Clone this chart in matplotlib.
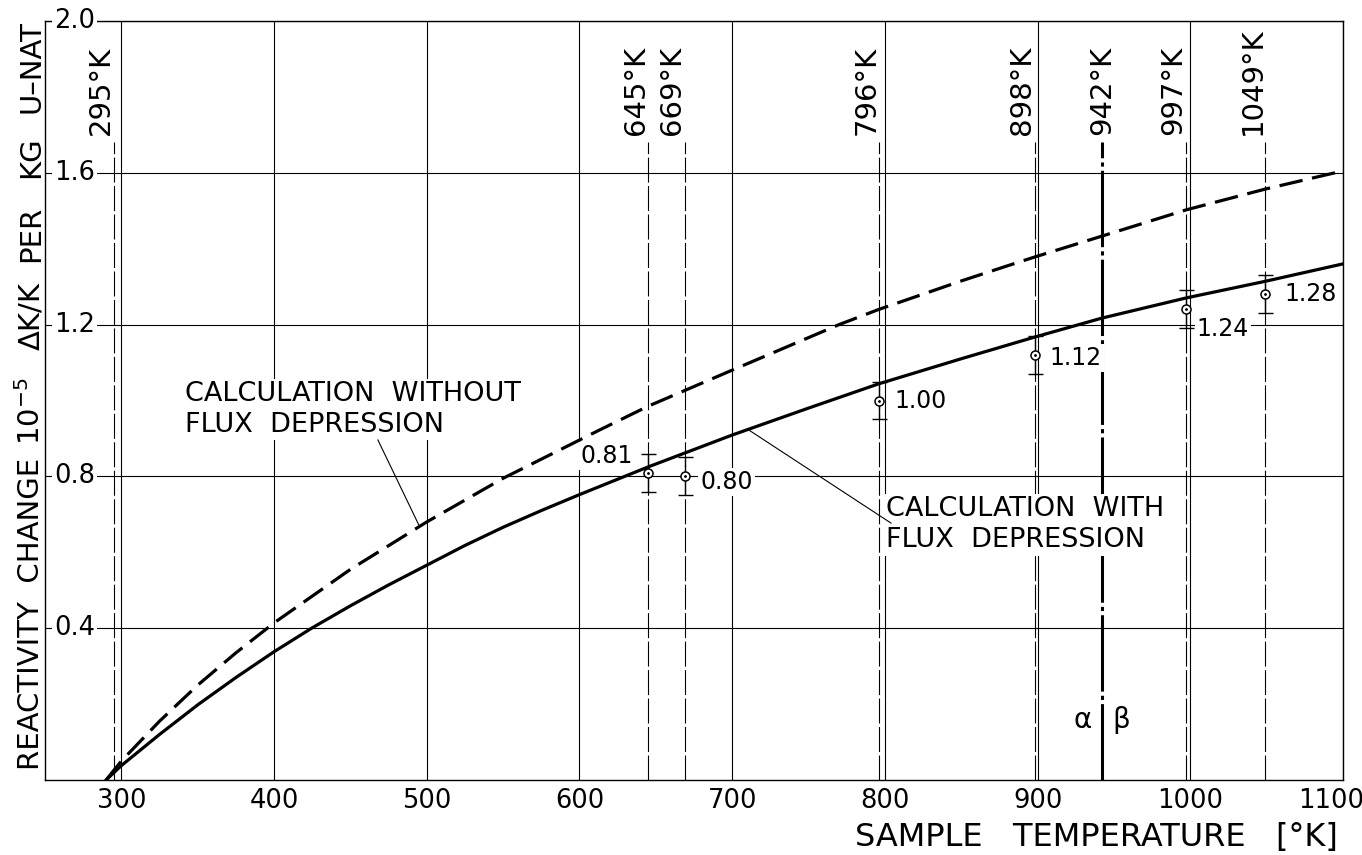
import matplotlib.pyplot as plt
from matplotlib.transforms import ScaledTranslation

plt.rcParams['font.family'] = ['DejaVu Sans']
plt.rcParams['lines.scale_dashes'] = False

# sample temperature [K] vs reactivity change [1e-5 dk/k per kg U-nat]
temp_with = [290, 300, 325, 350, 375, 400, 425, 450, 475, 500, 525, 550, 575,
             600, 645, 700, 750, 796, 850, 898, 942, 997, 1049, 1100]
rho_with = [0.0, 0.038, 0.12, 0.198, 0.27, 0.338, 0.401, 0.459, 0.514, 0.566,
            0.618, 0.666, 0.71, 0.752, 0.825, 0.909, 0.98, 1.044, 1.11, 1.167,
            1.217, 1.27, 1.314, 1.36]

temp_without = [290, 300, 325, 350, 375, 400, 450, 500, 550, 613, 645, 700, 770,
                796, 850, 875, 898, 942, 997, 1049, 1100]
rho_without = [0.0, 0.05, 0.155, 0.25, 0.335, 0.414, 0.555, 0.68, 0.795, 0.922,
               0.985, 1.08, 1.2, 1.24, 1.315, 1.348, 1.378, 1.433, 1.502, 1.557,
               1.605]

# measured points
temp_meas = [645, 669, 796, 898, 997, 1049]
rho_meas = [0.81, 0.80, 1.00, 1.12, 1.24, 1.28]
rho_err = [0.05, 0.05, 0.05, 0.05, 0.05, 0.05]
meas_labels = ['0.81', '0.80', '1.00', '1.12', '1.24', '1.28']
# label offsets in points (dx, dy, ha)
label_offsets = [(-11, 12, 'right'), (11, -4, 'left'), (11, 0, 'left'),
                 (11, -2, 'left'), (8, -14, 'left'), (14, 0, 'left')]

# marked temperatures
mark_temps = [295, 645, 669, 796, 898, 997, 1049]
alpha_beta_temp = 942

x_ticks = [300, 400, 500, 600, 700, 800, 900, 1000, 1100]
y_ticks = [0.4, 0.8, 1.2, 1.6, 2.0]
y_tick_labels = ['0.4', '0.8', '1.2', '1.6', '2.0']

W, H = 1362, 855
fig = plt.figure(figsize=(W / 100, H / 100), dpi=100)
ax = fig.add_axes([45 / W, 75 / H, 1298 / W, 759 / H])
ax.set_xlim(250, 1100)
ax.set_ylim(0, 2.0)

ax.set_xticks(x_ticks)
ax.set_xticklabels([str(t) for t in x_ticks], fontsize=18.5)
ax.set_yticks(y_ticks)
ax.set_yticklabels([])
ax.tick_params(axis='x', length=0, pad=6)
ax.tick_params(axis='y', length=0)
ax.grid(True, color='black', lw=0.8)
for sp in ax.spines.values():
    sp.set_linewidth(1.0)

# keep the last x label inside the figure
last = ax.get_xticklabels()[-1]
last.set_transform(last.get_transform() + ScaledTranslation(-12 / 100, 0, fig.dpi_scale_trans))

white = dict(facecolor='white', edgecolor='none', pad=1.5)

# y tick labels sit inside the frame
for yv, lab in zip(y_ticks, y_tick_labels):
    ax.text(256, yv, lab, fontsize=18.5, ha='left', va='center', bbox=white, zorder=3)

# marked temperatures: thin dashed verticals with rotated labels
line_top = 1.68
for t in mark_temps:
    ax.plot([t, t], [0, line_top], color='black', lw=0.8, dashes=(18, 2.5), zorder=2)
    ax.text(t + 1, line_top + 0.02, f'{t}°K', rotation=90, fontsize=21,
            ha='right', va='bottom')

# alpha/beta transition
ax.plot([alpha_beta_temp] * 2, [0, line_top], color='black', lw=2.2,
        dashes=(55, 3, 3, 3), zorder=2)
ax.text(alpha_beta_temp, line_top + 0.02, f'{alpha_beta_temp}°K', rotation=90,
        fontsize=21, ha='center', va='bottom')
ax.annotate('α', (alpha_beta_temp, 0.158), xytext=(-7, 0), textcoords='offset points',
            fontsize=20, ha='right', va='center')
ax.annotate('β', (alpha_beta_temp, 0.158), xytext=(8, 0), textcoords='offset points',
            fontsize=20, ha='left', va='center')

# calculated curves
ax.plot(temp_with, rho_with, color='black', lw=2.3, solid_joinstyle='round', zorder=4)
ax.plot(temp_without, rho_without, color='black', lw=2.3, dashes=(17, 7), zorder=4)

# measurements
ax.errorbar(temp_meas, rho_meas, yerr=rho_err, fmt='none', ecolor='black',
            elinewidth=1.0, capsize=5.4, capthick=1.0, zorder=5)
ax.plot(temp_meas, rho_meas, 'o', ms=6.5, mfc='white', mec='black', mew=1.1, zorder=6)
ax.plot(temp_meas, rho_meas, '.', ms=2, color='black', zorder=7)
for t, v, lab, (dx, dy, ha) in zip(temp_meas, rho_meas, meas_labels, label_offsets):
    ax.annotate(lab, (t, v), xytext=(dx, dy), textcoords='offset points',
                fontsize=17, ha=ha, va='center', bbox=white, zorder=3)

# curve captions with leader lines
ax.text(342, 0.976, 'CALCULATION  WITHOUT\nFLUX  DEPRESSION', fontsize=19.5,
        ha='left', va='center', linespacing=1.25, bbox=white, zorder=3)
ax.plot([468, 494.8], [0.896, 0.672], color='black', lw=0.8, zorder=3)

ax.text(801, 0.672, 'CALCULATION  WITH\nFLUX  DEPRESSION', fontsize=19.5,
        ha='left', va='center', linespacing=1.25, bbox=white, zorder=3)
ax.plot([711, 804], [0.922, 0.677], color='black', lw=0.8, zorder=3)

# axis titles
fig.text(1338 / W, (H - 837) / H, 'SAMPLE   TEMPERATURE   [°K]', fontsize=23,
         ha='right', va='center')

ylab_parts = [('REACTIVITY  CHANGE', 770), (r'$\mathregular{10^{-5}}$', 445),
              ('ΔK/K', 350), ('PER', 262), ('KG', 178), ('U–NAT', 113)]
for txt, ypix in ylab_parts:
    fig.text(31 / W, (H - ypix) / H, txt, rotation=90, fontsize=21,
             ha='center', va='bottom')

fig.savefig('out.png', dpi=100)
